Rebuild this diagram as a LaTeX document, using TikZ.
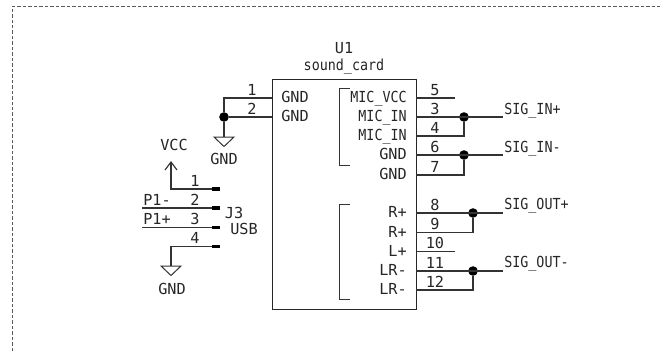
\documentclass[tikz,border=0pt]{standalone}
\usepackage{fontspec}
\setmainfont{DejaVu Sans Mono}
\newfontfamily\narrowmono[FakeStretch=0.88]{DejaVu Sans Mono}
\tikzset{
  wire/.style={draw=black!80,line width=0.85pt},
  txt/.style={inner sep=0pt,font=\fontsize{11.4}{12}\selectfont,text=black!85},
  ntxt/.style={inner sep=0pt,font=\fontsize{11.4}{12}\selectfont\narrowmono,text=black!85},
  lbl/.style={txt,anchor=base},
  lblr/.style={txt,anchor=base east},
  lbll/.style={txt,anchor=base west},
  nlbl/.style={ntxt,anchor=base},
  nlblr/.style={ntxt,anchor=base east},
  nlbll/.style={ntxt,anchor=base west},
  junction/.style={circle,fill=black,inner sep=0pt,minimum size=7.2pt},
  pad/.style={draw=black,line width=2.6pt},
  gndsym/.style={draw=black!80,line width=0.75pt},
}
\begin{document}
\begin{tikzpicture}[x=0.75pt,y=-0.75pt]
\useasboundingbox (0,0) rectangle (662,351);
\draw[gray!70!black,line width=0.7pt,dash pattern=on 2.6pt off 1.5pt] (12.5,351) -- (12.5,6) -- (662,6);
% U1
\node[draw=black!85,line width=1.1pt,minimum width=108pt,minimum height=172.5pt,inner sep=0pt,anchor=north west] (U1) at (272,79) {};
\node[lbl] (u1name) at (344,53) {U1};
\node[nlbl] (u1val) at (344,70) {sound\_card};
% brackets
\draw[wire,line width=0.7pt] (349.5,88) -- (339.5,88) -- (339.5,165) -- (349.5,165);
\draw[wire,line width=0.7pt] (349.5,204) -- (339.5,204) -- (339.5,299) -- (349.5,299);
% coordinates
\coordinate (L1) at (272,98); \coordinate (L2) at (272,117);
\foreach \n/\y in {5/98,3/117,4/136,6/155,7/175,8/213,9/232.5,10/251.5,11/271,12/290}
  \coordinate (R\n) at (416,\y);
% left pins
\node[junction] (jg) at (224,117) {};
\coordinate (lc) at (224,98);
\coordinate (g1) at (224,137);
\draw[wire] (L1) -- (lc) -- (jg);
\draw[wire] (L2) -- (jg);
\draw[wire] (jg) -- (g1);
\draw[gndsym] (214,137) -- (234,137) -- (224,146.5) -- cycle;
\node[lbl] (gnd1) at (224,164) {GND};
\node[lbl] at (252,95) {1};
\node[lbl] at (252,114) {2};
\node[lbll] at (281,102.5) {GND};
\node[lbll] at (281,121.5) {GND};
% text inside the box, right side
\foreach \t/\y in {MIC\_VCC/102.5,MIC\_IN/121.5,MIC\_IN/140.5}
  \node[nlblr] at (407,\y) {\t};
\foreach \t/\y in {GND/159.5,GND/179.5,R+/217.5,R+/237,L+/256,LR-/275.5,LR-/294.5}
  \node[lblr] at (407,\y) {\t};
% right pin numbers
\foreach \t/\y/\x in {5/95/435,3/114/435,4/133/435,6/152/435,7/172/435,8/210/435,9/229.5/435,10/248.5/435,11/268/435,12/287/435}
  \node[lbl] at (\x,\y) {\t};
% right wires
\coordinate (e5) at (455,98); \coordinate (e10) at (455,251.5);
\draw[wire] (R5) -- (e5);
\draw[wire] (R10) -- (e10);
\node[junction] (j1) at (464,117) {};
\node[junction] (j2) at (464,155) {};
\node[junction] (j3) at (473,213) {};
\node[junction] (j4) at (473,271) {};
\coordinate (s1) at (503,117); \coordinate (s2) at (503,155);
\coordinate (s3) at (503,213); \coordinate (s4) at (503,271);
\draw[wire] (R3) -- (s1); \draw[wire] (R6) -- (s2);
\draw[wire] (R8) -- (s3); \draw[wire] (R11) -- (s4);
\draw[wire] (R4) -| (j1);
\draw[wire] (R7) -| (j2);
\draw[wire] (R9) -| (j3);
\draw[wire] (R12) -| (j4);
\node[nlbll] at (504,114) {SIG\_IN+};
\node[nlbll] at (504,152) {SIG\_IN-};
\node[nlbll] at (504,209) {SIG\_OUT+};
\node[nlbll] at (504,267) {SIG\_OUT-};
% J3
\foreach \n/\y in {1/189,2/208,3/227.5,4/246.5}{
  \coordinate (P\n) at (212,\y);
  \coordinate (Q\n) at (220,\y);
  \draw[pad] (P\n) -- (Q\n);
}
\coordinate (vt) at (171,162);
\coordinate (v1) at (171,189);
\draw[wire] (P1) -- (v1) -- (vt);
\draw[wire] (165,170) -- (vt) -- (177,170);
\node[lbl] at (174,150) {VCC};
\coordinate (n2) at (142,208); \coordinate (n3) at (142,227.5);
\draw[wire] (P2) -- (n2);
\draw[wire] (P3) -- (n3);
\coordinate (g4) at (171,246.5); \coordinate (g5) at (171,266);
\draw[wire] (P4) -- (g4) -- (g5);
\draw[gndsym] (161,266) -- (181,266) -- (171,275.5) -- cycle;
\node[lbl] at (172,294) {GND};
\node[lbl] at (195,186) {1};
\node[lbl] at (195,205) {2};
\node[lbl] at (195,224) {3};
\node[lbl] at (195,243) {4};
\node[lbll] at (143,205) {P1-};
\node[lbll] at (143,224) {P1+};
\node[lbl] at (234,218) {J3};
\node[lbl] at (244,234.5) {USB};
\end{tikzpicture}
\end{document}
